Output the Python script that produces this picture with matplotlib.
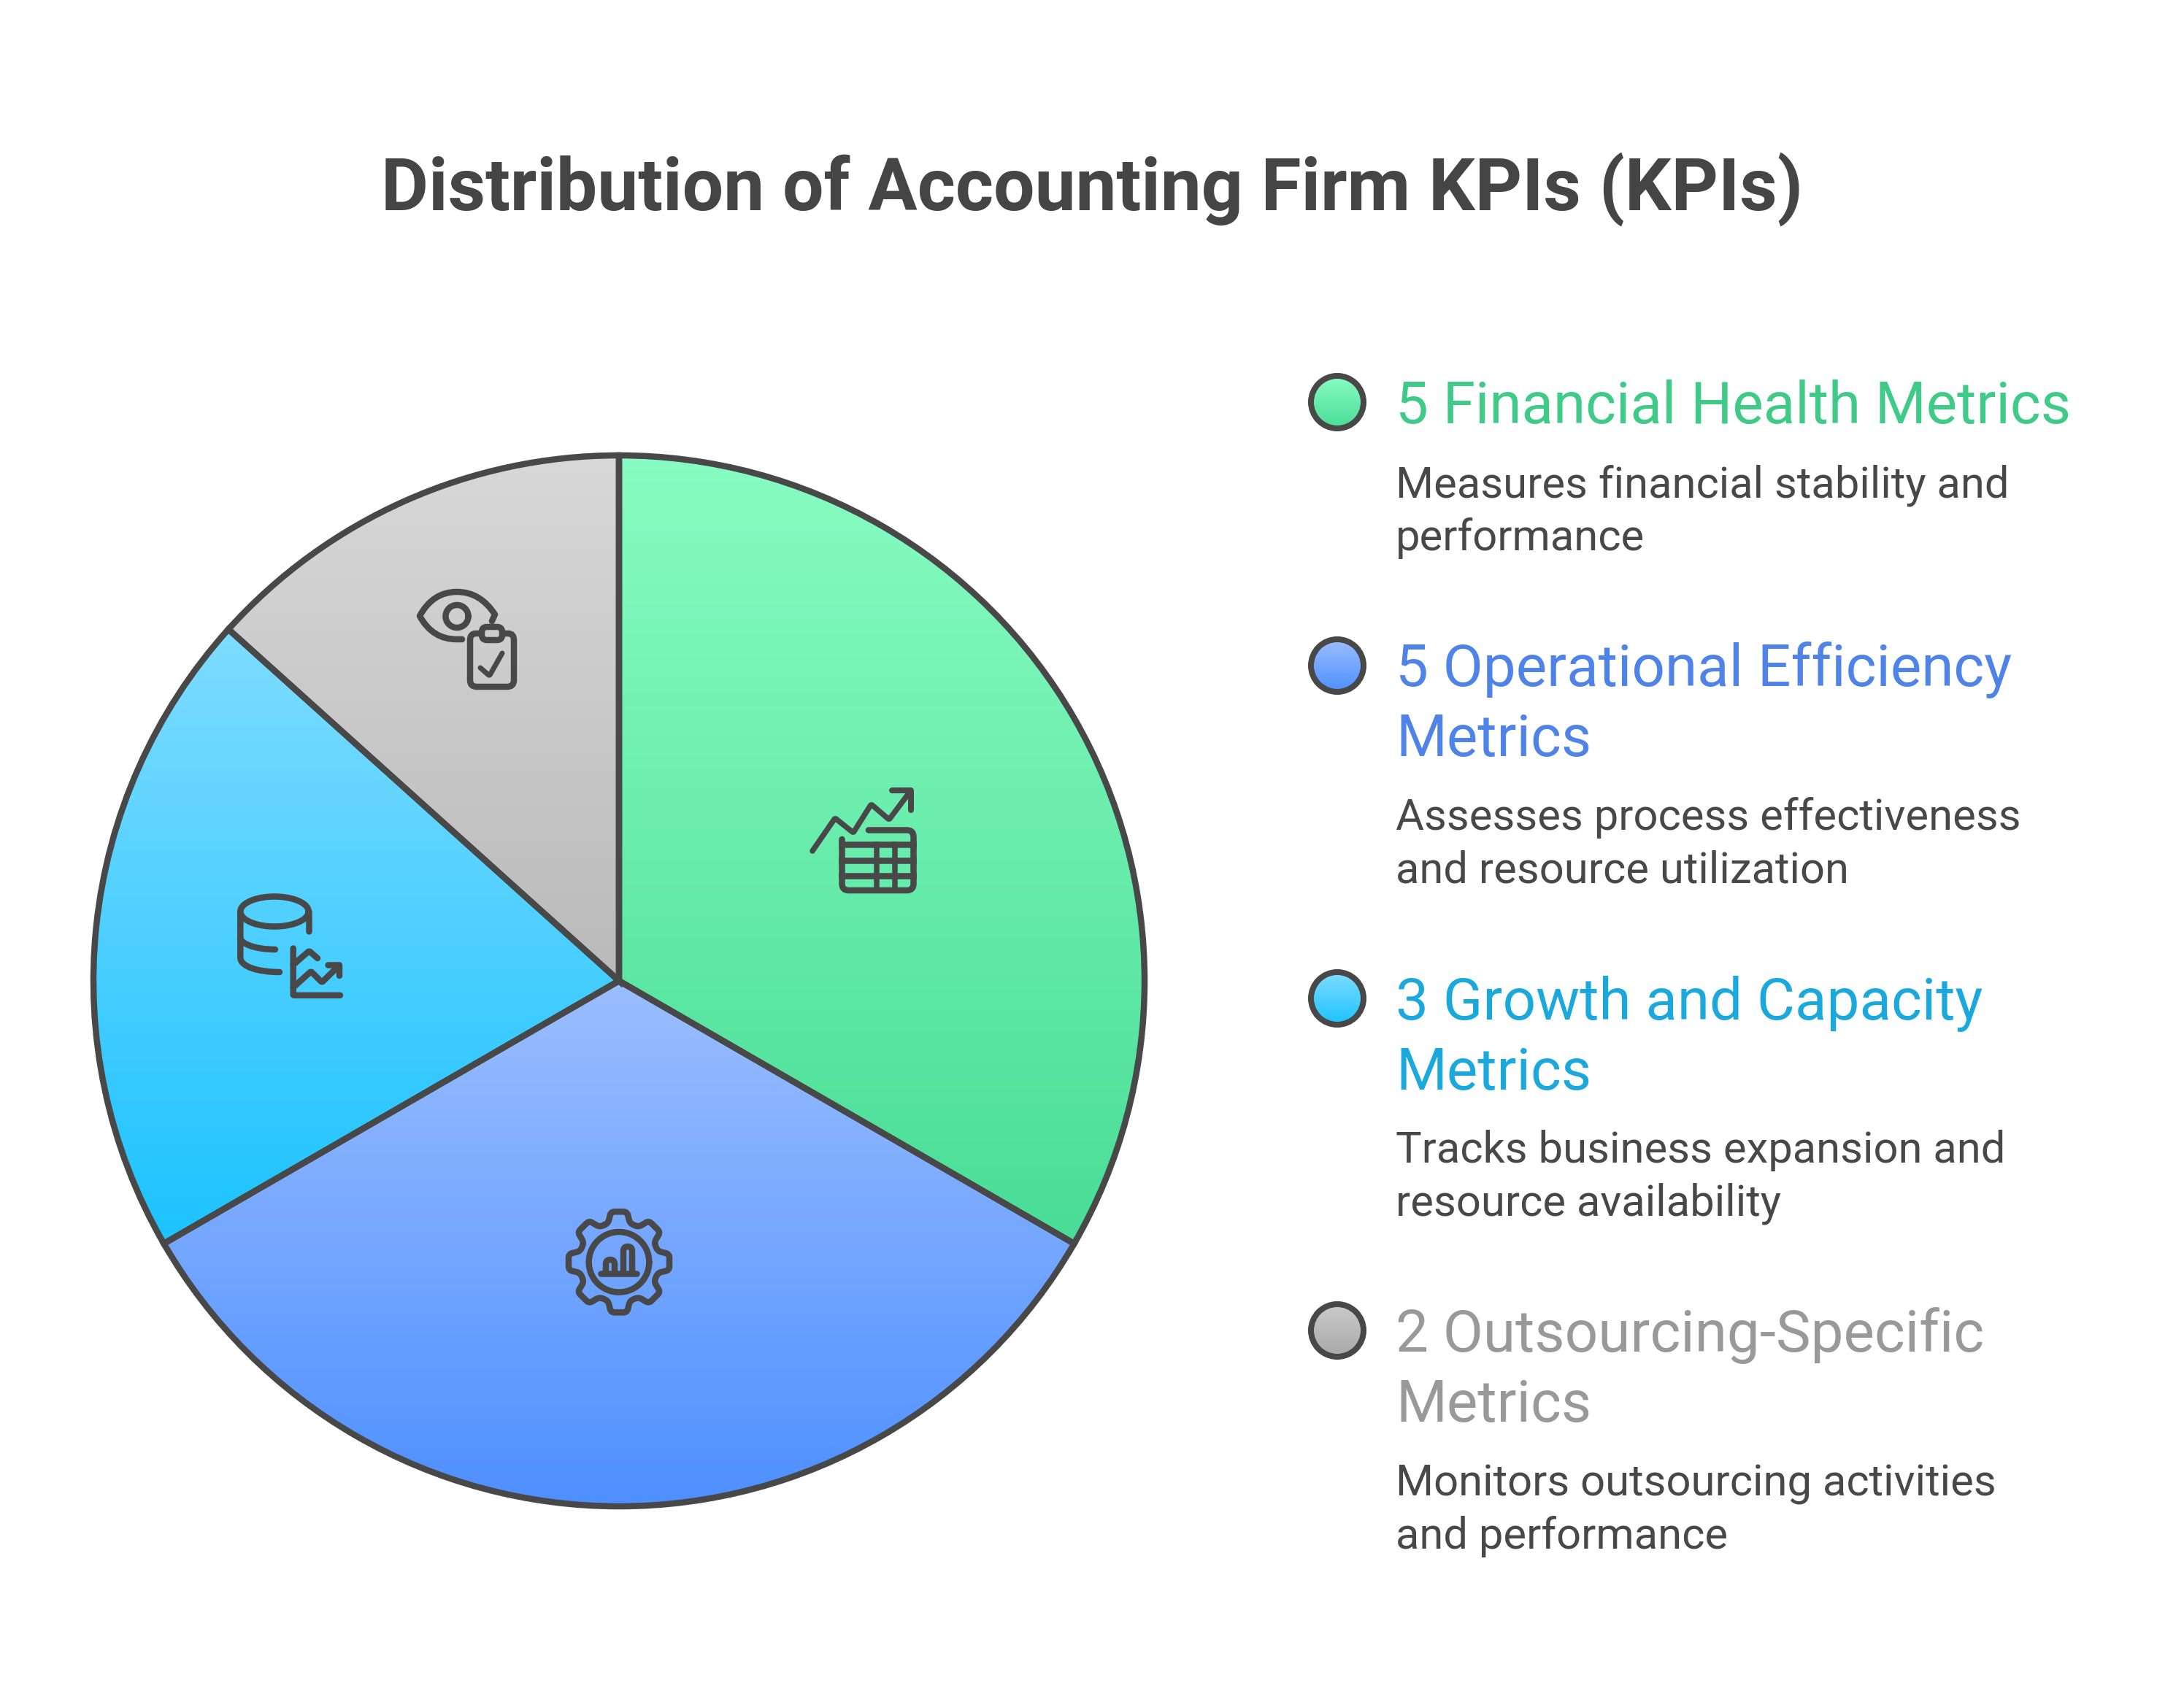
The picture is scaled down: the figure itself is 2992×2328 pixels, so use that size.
import numpy as np
import matplotlib
matplotlib.use("Agg")
import matplotlib.pyplot as plt
from matplotlib.colors import LinearSegmentedColormap
from matplotlib.patches import Circle, PathPatch
from matplotlib.path import Path

W, H = 2992, 2328
DPI = 200
INK = "#484848"

plt.rcParams["font.family"] = ["Roboto", "DejaVu Sans"]

# data
title = "Distribution of Accounting Firm KPIs (KPIs)"
kpi_counts = [5, 5, 3, 2]
headings = ["5 Financial Health Metrics",
            "5 Operational Efficiency\nMetrics",
            "3 Growth and Capacity\nMetrics",
            "2 Outsourcing-Specific\nMetrics"]
descriptions = ["Measures financial stability and\nperformance",
                "Assesses process effectiveness\nand resource utilization",
                "Tracks business expansion and\nresource availability",
                "Monitors outsourcing activities\nand performance"]
heading_colors = ["#3fcb87", "#4f83e8", "#1ba8dc", "#999999"]
grad_top = ["#88fcc2", "#9bbeff", "#7edcff", "#d8d8d8"]
grad_bottom = ["#49dd96", "#4e90ff", "#1cc3ff", "#bababa"]
mark_top = ["#88fcc2", "#9bbeff", "#7edcff", "#cacaca"]
mark_bottom = ["#49dd96", "#4e90ff", "#1cc3ff", "#a9a9a9"]

# layout, reference pixels
CX, CY, R = 848, 1344, 720
MARK_X = 1832
TEXT_X = 1912
mark_y = [551, 912, 1368, 1823]
head_base = [580, 940, 1397, 1852]
desc_base = [681, 1137, 1593, 2049]
HEAD_STEP = 96
DESC_STEP = 73
LW = 8.5


def px(p):
    return p * 72 / DPI


fig = plt.figure(figsize=(W / DPI, H / DPI), dpi=DPI, facecolor="white")

# pie, each wedge filled with its own vertical gradient
pie_ax = fig.add_axes([(CX - 1.25 * R) / W, 1 - (CY + 1.25 * R) / H, 2.5 * R / W, 2.5 * R / H])
wedges, _ = pie_ax.pie(kpi_counts, startangle=90, counterclock=False,
                       wedgeprops=dict(facecolor="none", edgecolor=INK, linewidth=px(LW), zorder=3))
for i, w in enumerate(wedges):
    box = w.get_patch_transform().transform_path(w.get_path()).get_extents()
    cmap = LinearSegmentedColormap.from_list("g", [grad_top[i], grad_bottom[i]])
    im = pie_ax.imshow(np.linspace(0, 1, 256)[:, None], cmap=cmap, aspect="auto", origin="upper",
                       extent=(box.x0, box.x1, box.y0, box.y1), zorder=1)
    im.set_clip_path(w)
pie_ax.set_xlim(-1.25, 1.25)
pie_ax.set_ylim(-1.25, 1.25)

# everything else in reference pixel coordinates
ax = fig.add_axes([0, 0, 1, 1])
ax.patch.set_alpha(0)
ax.axis("off")


def stroke(verts, codes=None, lw=LW):
    ax.add_patch(PathPatch(Path(verts, codes), fill=False, edgecolor=INK, linewidth=px(lw),
                           capstyle="round", joinstyle="round", zorder=5))


def rounded(pts, r=7, closed=False, lw=LW):
    # polyline with its corners rounded off
    pts = [np.array(p, dtype=float) for p in pts]
    n = len(pts)
    verts, codes = [], []
    idx = range(n) if closed else range(1, n - 1)
    if not closed:
        verts.append(pts[0])
        codes.append(Path.MOVETO)
    for k in idx:
        p, a, b = pts[k], pts[k - 1], pts[(k + 1) % n]
        d1, d2 = np.linalg.norm(a - p), np.linalg.norm(b - p)
        p1 = p + (a - p) / d1 * min(r, d1 / 2)
        p2 = p + (b - p) / d2 * min(r, d2 / 2)
        first = closed and not verts
        verts += [p1, p, p2]
        codes += [Path.MOVETO if first else Path.LINETO, Path.CURVE3, Path.CURVE3]
    if closed:
        verts.append(verts[0])
        codes.append(Path.LINETO)
    else:
        verts.append(pts[-1])
        codes.append(Path.LINETO)
    stroke(verts, codes, lw)


def ring(x, y, rx, ry=None, lw=LW):
    ry = rx if ry is None else ry
    t = np.linspace(0, 2 * np.pi, 120)
    stroke(np.c_[x + rx * np.cos(t), y + ry * np.sin(t)], lw=lw)


# eye + clipboard
C4 = Path.CURVE4
stroke([(674, 851), (678, 842), (665, 822), (648, 811), (626, 811), (604, 811), (587, 822), (575, 844),
        (587, 866), (604, 876), (626, 876), (633, 876)],
       [Path.MOVETO, Path.LINETO, C4, C4, C4, C4, C4, C4, C4, C4, C4, Path.LINETO])
ring(626, 844.5, 15.5)
rounded([(660, 868), (644, 868), (644, 941), (704, 941), (704, 868), (688, 868)], r=9)
rounded([(660, 859), (688, 859), (688, 877), (660, 877)], r=7, closed=True)
rounded([(658, 915), (670.5, 926), (688, 895)], r=2, lw=7)

# chart + table
rounded([(1113, 1166), (1144, 1121), (1169, 1141), (1193.5, 1102), (1218, 1123), (1248, 1083)], r=2, lw=7.5)
rounded([(1222, 1083), (1248, 1083), (1248, 1110)], r=1, lw=8)
rounded([(1153.5, 1150), (1153.5, 1220), (1251.5, 1220), (1251.5, 1137.5), (1190, 1137.5)], r=9)
for y in (1156.5, 1178.5, 1199.5):
    ax.plot([1153.5, 1251.5], [y, y], color=INK, lw=px(LW), zorder=5)
for x in (1201.5, 1226):
    ax.plot([x, x], [1156.5, 1220], color=INK, lw=px(7.5), zorder=5)

# gear + bars
GX, GY = 848, 1729.3
gear = []
for k in range(8):
    a = np.deg2rad(k * 45)
    u = np.array([np.sin(a), -np.cos(a)])
    v = np.array([np.cos(a), np.sin(a)])
    for off, rad in ((-15, 53), (-11, 69), (11, 69), (15, 53)):
        gear.append((GX + u[0] * rad + v[0] * off, GY + u[1] * rad + v[1] * off))
rounded(gear, r=5, closed=True)
ring(GX, GY, 41.3)
rounded([(823.5, 1745), (872.5, 1745)], lw=8.5)
rounded([(830, 1745), (830, 1726), (842, 1726), (842, 1745)], r=6)
rounded([(854, 1745), (854, 1708), (866, 1708), (866, 1745)], r=6)

# database + small chart
ring(376, 1249, 46.7, 20.5)
stroke([(329.3, 1249), (329.3, 1312), (329.3, 1325), (355, 1332), (383, 1332)],
       [Path.MOVETO, Path.LINETO, C4, C4, C4])
stroke([(329.3, 1285), (329.3, 1293), (350, 1301), (377, 1301)],
       [Path.MOVETO, C4, C4, C4])
rounded([(422.7, 1249), (422.7, 1275.5)])
rounded([(401.7, 1299.5), (401.7, 1363.8), (466, 1363.8)], r=1)
rounded([(401.7, 1353), (426, 1331), (441, 1346), (465, 1322.5)], r=2)
rounded([(449.5, 1322.5), (465, 1322.5), (465, 1337)], r=1)
rounded([(401.7, 1322), (423.5, 1303), (435, 1313)], r=2)

# legend
for i in range(len(kpi_counts)):
    x, y = MARK_X, mark_y[i]
    cmap = LinearSegmentedColormap.from_list("g", [mark_top[i], mark_bottom[i]])
    circ = Circle((x, y), 36, facecolor="none", edgecolor=INK, linewidth=px(8), zorder=6)
    ax.add_patch(circ)
    im = ax.imshow(np.linspace(0, 1, 64)[:, None], cmap=cmap, aspect="auto", origin="upper",
                   extent=(x - 36, x + 36, y + 36, y - 36), zorder=4)
    im.set_clip_path(circ)
    for j, line in enumerate(headings[i].split("\n")):
        ax.text(TEXT_X, head_base[i] + j * HEAD_STEP, line, color=heading_colors[i],
                fontsize=px(80), va="baseline", ha="left")
    for j, line in enumerate(descriptions[i].split("\n")):
        ax.text(TEXT_X, desc_base[i] + j * DESC_STEP, line, color=INK,
                fontsize=px(59.8), va="baseline", ha="left")

ax.text(1496, 288, title, color="#454545", fontsize=px(100), fontweight="bold",
        ha="center", va="baseline")

ax.set_xlim(0, W)
ax.set_ylim(H, 0)

fig.savefig("out.png", dpi=DPI, facecolor="white")
plt.close(fig)
